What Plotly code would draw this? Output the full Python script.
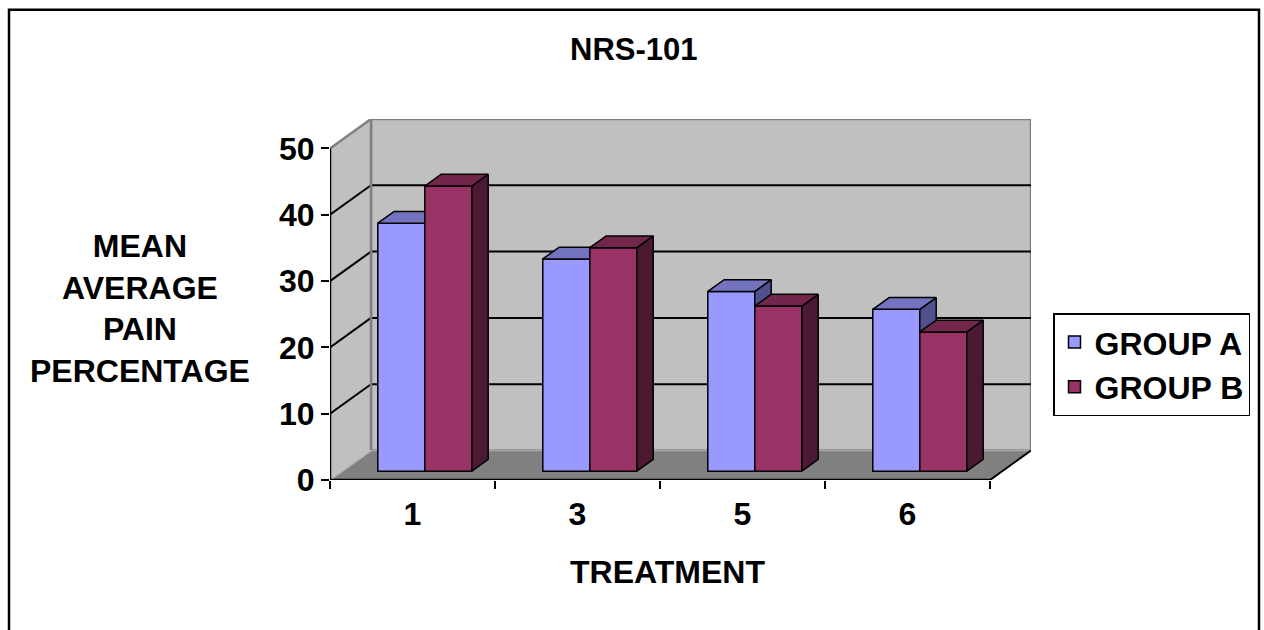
import plotly.graph_objects as go

# ---- data -------------------------------------------------------------
categories = ["1", "3", "5", "6"]
group_a = [37.4, 32.0, 27.1, 24.4]
group_b = [43.0, 33.7, 24.9, 21.0]
y_ticks = [0, 10, 20, 30, 40, 50]
series_names = ["GROUP A", "GROUP B"]

# ---- styling / 3-D geometry -------------------------------------------
FONT = "Arial, Liberation Sans, sans-serif"
A_FRONT, A_TOP, A_SIDE = "#9999FF", "#7373BF", "#50508C"
B_FRONT, B_TOP, B_SIDE = "#993366", "#73264C", "#4C1933"
WALL, FLOOR, EDGE = "#C0C0C0", "#808080", "#808080"

CAT_PX = 165.0            # pixels per category on the x axis
Y_PX = 6.64               # pixels per value unit on the y axis
DEPTH_X = 41.0 / CAT_PX   # oblique depth offset (x units)
DEPTH_Y = 29.5 / Y_PX     # oblique depth offset (y units)
BAR_W = 47.0 / CAT_PX
F0, F1 = 0.3, 0.7         # bar front / back as a fraction of depth
Y_TOP_TICK = y_ticks[-1]

X_MIN = -0.5
X_END = len(categories) - 0.5
X_MAX = X_END + DEPTH_X
Y_MAX = Y_TOP_TICK + DEPTH_Y

W, H = 1264, 630
PLOT_L = 330
PLOT_B = 480
PLOT_W = (X_MAX - X_MIN) * CAT_PX
PLOT_H = Y_MAX * Y_PX


def paper_x(px):
    return (px - PLOT_L) / PLOT_W


def paper_y(py):
    return (PLOT_B - py) / PLOT_H


fig = go.Figure()

ddx = (F1 - F0) * DEPTH_X
ddy = (F1 - F0) * DEPTH_Y
base = F0 * DEPTH_Y


def faces(values, shift):
    """Top and right-side polygons of the bars of one series."""
    tx, ty, sx, sy, xs = [], [], [], [], []
    for i, v in enumerate(values):
        x0 = i + shift + F0 * DEPTH_X
        x1 = x0 + BAR_W
        yt = base + v
        xs.append(x0 + BAR_W / 2)
        tx += [x0, x1, x1 + ddx, x0 + ddx, x0, None]
        ty += [yt, yt, yt + ddy, yt + ddy, yt, None]
        sx += [x1, x1, x1 + ddx, x1 + ddx, x1, None]
        sy += [base, yt, yt + ddy, base + ddy, base, None]
    return xs, tx, ty, sx, sy


for values, shift, name, cf, ct, cs, xa, ya in [
    (group_a, -BAR_W, series_names[0], A_FRONT, A_TOP, A_SIDE, "x", "y"),
    (group_b, 0.0, series_names[1], B_FRONT, B_TOP, B_SIDE, "x2", "y2"),
]:
    xs, tx, ty, sx, sy = faces(values, shift)
    fig.add_trace(go.Bar(
        x=xs, y=values, base=[base] * len(values), width=BAR_W, name=name,
        marker=dict(color=cf, line=dict(color="black", width=1.5)),
        xaxis=xa, yaxis=ya, hoverinfo="skip",
    ))
    for px_, py_, col in [(sx, sy, cs), (tx, ty, ct)]:
        fig.add_trace(go.Scatter(
            x=px_, y=py_, mode="lines", fill="toself", fillcolor=col,
            line=dict(color="black", width=1.5), showlegend=False,
            xaxis=xa, yaxis=ya, hoverinfo="skip",
        ))

shapes = []
# back wall
shapes.append(dict(type="rect", xref="x", yref="y", layer="below",
                   x0=X_MIN + DEPTH_X, x1=X_MAX, y0=DEPTH_Y, y1=Y_MAX,
                   fillcolor=WALL, line=dict(color=EDGE, width=2.5)))
# left wall
shapes.append(dict(type="path", xref="x", yref="y", layer="below",
                   path=f"M {X_MIN},0 L {X_MIN + DEPTH_X},{DEPTH_Y} "
                        f"L {X_MIN + DEPTH_X},{Y_MAX} L {X_MIN},{Y_TOP_TICK} Z",
                   fillcolor=WALL, line=dict(width=0)))
# floor
shapes.append(dict(type="path", xref="x", yref="y", layer="below",
                   path=f"M {X_MIN},0 L {X_END},0 L {X_MAX},{DEPTH_Y} "
                        f"L {X_MIN + DEPTH_X},{DEPTH_Y} Z",
                   fillcolor=FLOOR, line=dict(width=0)))


def seg(x0, y0, x1, y1, color, width):
    shapes.append(dict(type="line", xref="x", yref="y", layer="below",
                       x0=x0, y0=y0, x1=x1, y1=y1,
                       line=dict(color=color, width=width)))


# gridlines on the back and left walls
for v in y_ticks[1:-1]:
    seg(X_MIN + DEPTH_X, v + DEPTH_Y, X_MAX, v + DEPTH_Y, "black", 2)
    seg(X_MIN, v, X_MIN + DEPTH_X, v + DEPTH_Y, "black", 2)
# wall edges
seg(X_MIN, Y_TOP_TICK, X_MIN + DEPTH_X, Y_MAX, EDGE, 2.5)
seg(X_MIN + DEPTH_X, DEPTH_Y, X_MIN + DEPTH_X, Y_MAX, EDGE, 2.5)
seg(X_MIN + DEPTH_X, DEPTH_Y, X_MAX, DEPTH_Y, "#A8A8A8", 1.5)
seg(X_MIN, 0, X_MIN + DEPTH_X, DEPTH_Y, "#B8B8B8", 1.5)
# front axis lines and floor edge
seg(X_MIN, 0, X_MIN, Y_TOP_TICK, "black", 2.5)
seg(X_MIN, 0, X_END, 0, "black", 2.5)
seg(X_END, 0, X_MAX, DEPTH_Y, "black", 2)

# outer frame of the chart area
shapes.append(dict(type="rect", xref="paper", yref="paper", layer="above",
                   x0=paper_x(9), x1=paper_x(1259), y0=paper_y(645), y1=paper_y(9),
                   line=dict(color="black", width=2.5), fillcolor="rgba(0,0,0,0)"))

bold = dict(family=FONT, size=32, color="black", weight="bold")

annotations = [
    dict(text="NRS-101", x=paper_x(634), y=paper_y(49), xref="paper", yref="paper",
         showarrow=False, xanchor="center", yanchor="middle",
         font=dict(family=FONT, size=31, color="black", weight="bold")),
    dict(text="TREATMENT", x=paper_x(667), y=paper_y(572), xref="paper", yref="paper",
         showarrow=False, xanchor="center", yanchor="middle", font=bold),
    dict(text="MEAN<br>AVERAGE<br>PAIN<br>PERCENTAGE", x=paper_x(140), y=paper_y(308),
         xref="paper", yref="paper", showarrow=False, xanchor="center",
         yanchor="middle", align="center", font=bold),
]

fig.update_layout(
    width=W, height=H, autosize=False,
    margin=dict(l=PLOT_L, r=W - PLOT_L - PLOT_W, t=PLOT_B - PLOT_H, b=H - PLOT_B,
                pad=0),
    paper_bgcolor="white", plot_bgcolor="rgba(0,0,0,0)",
    barmode="overlay", shapes=shapes, annotations=annotations,
    showlegend=True,
    legend=dict(x=paper_x(1053), y=paper_y(313), xanchor="left", yanchor="top",
                bgcolor="white", bordercolor="black", borderwidth=1.5,
                font=bold, traceorder="normal"),
    xaxis=dict(range=[X_MIN, X_MAX], domain=[0, 1], showgrid=False, zeroline=False,
               showline=False, tickmode="array",
               tickvals=[i - 0.5 for i in range(len(categories) + 1)],
               ticktext=[""] * (len(categories) + 1), ticks="outside",
               ticklen=8, tickwidth=2, tickcolor="black", fixedrange=True),
    xaxis2=dict(range=[X_MIN, X_MAX], overlaying="x", anchor="y2", side="bottom",
                showgrid=False, zeroline=False, showline=False, tickmode="array",
                tickvals=list(range(len(categories))), ticktext=categories,
                ticks="", tickfont=bold, ticklabelstandoff=12, fixedrange=True),
    yaxis=dict(range=[0, Y_MAX], domain=[0, 1], showgrid=False, zeroline=False,
               showline=False, tickmode="array", tickvals=y_ticks,
               ticks="outside", ticklen=8, tickwidth=2, tickcolor="black",
               tickfont=bold, fixedrange=True),
    yaxis2=dict(range=[0, Y_MAX], overlaying="y", anchor="x2", showgrid=False,
                zeroline=False, showline=False, showticklabels=False,
                fixedrange=True),
)

fig.write_html("out.html")
